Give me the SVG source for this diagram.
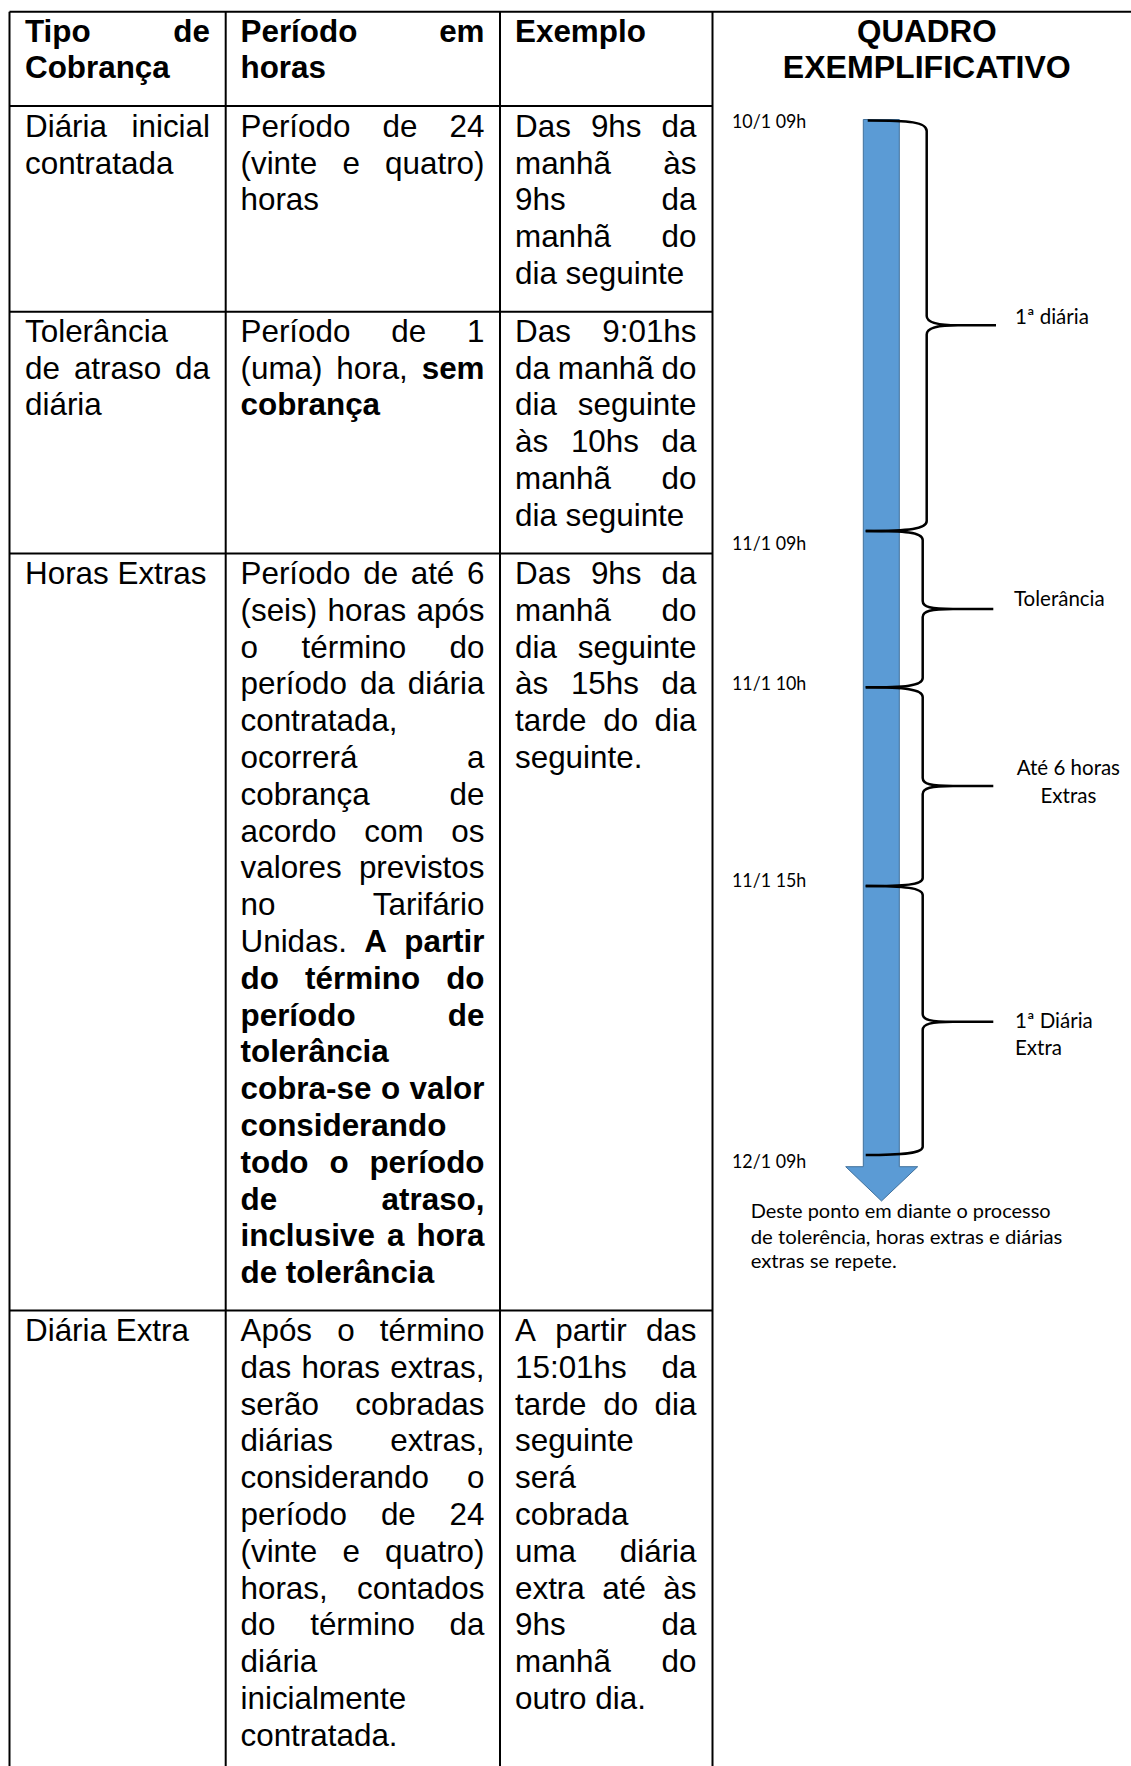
<svg xmlns="http://www.w3.org/2000/svg" width="1131" height="1766" viewBox="0 0 1131 1766">
<style>
text{font-family:"Liberation Sans",Arial,sans-serif;font-size:31.4px;fill:#000}
.b{font-weight:bold}
.e{text-anchor:end}
.c{text-anchor:middle}
.l{font-family:Lato,"Open Sans",sans-serif;font-size:20.5px}
.tm{font-family:Lato,"Open Sans",sans-serif;font-size:19.5px}
.f{font-family:Lato,"Open Sans",sans-serif;font-size:20px}
.grid{stroke:#000;stroke-width:2;fill:none}
.brace{stroke:#000;stroke-width:2.5;fill:none}
</style>
<rect width="1131" height="1766" fill="#fff"/>
<g id="grid" class="grid">
<line x1="9.5" y1="11.7" x2="1131" y2="11.7"/>
<line x1="9.5" y1="11.7" x2="9.5" y2="1766"/>
<line x1="225.7" y1="11.7" x2="225.7" y2="1766"/>
<line x1="500" y1="11.7" x2="500" y2="1766"/>
<line x1="712.5" y1="11.7" x2="712.5" y2="1766"/>
<line x1="9.5" y1="106" x2="712.5" y2="106"/>
<line x1="9.5" y1="311.7" x2="712.5" y2="311.7"/>
<line x1="9.5" y1="553.5" x2="712.5" y2="553.5"/>
<line x1="9.5" y1="1310.5" x2="712.5" y2="1310.5"/>
</g>
<g id="header">
<text x="25" y="42.3" class="b">Tipo</text><text x="210" y="42.3" class="b e">de</text>
<text x="25" y="78" class="b">Cobrança</text>
<text x="240.5" y="42.3" class="b">Período</text><text x="484.5" y="42.3" class="b e">em</text>
<text x="240.5" y="78" class="b">horas</text>
<text x="515" y="42.3" class="b">Exemplo</text>
<text x="926.8" y="42.3" class="b c">QUADRO</text>
<text x="926.8" y="78" class="b c" textLength="288" lengthAdjust="spacingAndGlyphs">EXEMPLIFICATIVO</text>
</g>
<g id="row-diaria-inicial">
<text x="25" y="136.7">Diária</text><text x="210" y="136.7" class="e">inicial</text>
<text x="25" y="173.5">contratada</text>
<text x="240.5" y="136.7">Período</text><text x="382.6" y="136.7">de</text><text x="484.5" y="136.7" class="e">24</text>
<text x="240.5" y="173.5">(vinte</text><text x="342.4" y="173.5">e</text><text x="484.5" y="173.5" class="e">quatro)</text>
<text x="240.5" y="210.3">horas</text>
<text x="515" y="136.7">Das</text><text x="590.9" y="136.7">9hs</text><text x="696.5" y="136.7" class="e">da</text>
<text x="515" y="173.5">manhã</text><text x="696.5" y="173.5" class="e">às</text>
<text x="515" y="210.3">9hs</text><text x="696.5" y="210.3" class="e">da</text>
<text x="515" y="247.1">manhã</text><text x="696.5" y="247.1" class="e">do</text>
<text x="515" y="283.9">dia seguinte</text>
</g>
<g id="row-tolerancia">
<text x="25" y="341.7">Tolerância</text>
<text x="25" y="378.5">de</text><text x="73.9" y="378.5">atraso</text><text x="210" y="378.5" class="e">da</text>
<text x="25" y="415.3">diária</text>
<text x="240.5" y="341.7">Período</text><text x="391.3" y="341.7">de</text><text x="484.5" y="341.7" class="e">1</text>
<text x="240.5" y="378.5">(uma)</text><text x="336.3" y="378.5">hora,</text><text x="484.5" y="378.5" class="b e">sem</text>
<text x="240.5" y="415.3" class="b">cobrança</text>
<text x="515" y="341.7">Das</text><text x="696.5" y="341.7" class="e">9:01hs</text>
<text x="515" y="378.5">da</text><text x="557.8" y="378.5">manhã</text><text x="696.5" y="378.5" class="e">do</text>
<text x="515" y="415.3">dia</text><text x="696.5" y="415.3" class="e">seguinte</text>
<text x="515" y="452.1">às</text><text x="570.9" y="452.1">10hs</text><text x="696.5" y="452.1" class="e">da</text>
<text x="515" y="488.9">manhã</text><text x="696.5" y="488.9" class="e">do</text>
<text x="515" y="525.7">dia seguinte</text>
</g>
<g id="row-horas-extras">
<text x="25" y="584">Horas Extras</text>
<text x="240.5" y="584">Período</text><text x="363.2" y="584">de</text><text x="410.7" y="584">até</text><text x="484.5" y="584" class="e">6</text>
<text x="240.5" y="620.8">(seis)</text><text x="327.6" y="620.8">horas</text><text x="484.5" y="620.8" class="e">após</text>
<text x="240.5" y="657.6">o</text><text x="301.5" y="657.6">término</text><text x="484.5" y="657.6" class="e">do</text>
<text x="240.5" y="694.4">período</text><text x="359.9" y="694.4">da</text><text x="484.5" y="694.4" class="e">diária</text>
<text x="240.5" y="731.2">contratada,</text>
<text x="240.5" y="768">ocorrerá</text><text x="484.5" y="768" class="e">a</text>
<text x="240.5" y="804.8">cobrança</text><text x="484.5" y="804.8" class="e">de</text>
<text x="240.5" y="841.6">acordo</text><text x="364.3" y="841.6">com</text><text x="484.5" y="841.6" class="e">os</text>
<text x="240.5" y="878.4">valores</text><text x="484.5" y="878.4" class="e">previstos</text>
<text x="240.5" y="915.2">no</text><text x="484.5" y="915.2" class="e">Tarifário</text>
<text x="240.5" y="952">Unidas.</text><text x="364.2" y="952" class="b">A</text><text x="484.5" y="952" class="b e">partir</text>
<text x="240.5" y="988.8" class="b">do</text><text x="305" y="988.8" class="b">término</text><text x="484.5" y="988.8" class="b e">do</text>
<text x="240.5" y="1025.6" class="b">período</text><text x="484.5" y="1025.6" class="b e">de</text>
<text x="240.5" y="1062.4" class="b">tolerância</text>
<text x="240.5" y="1099.2" class="b">cobra-se</text><text x="380.9" y="1099.2" class="b">o</text><text x="484.5" y="1099.2" class="b e">valor</text>
<text x="240.5" y="1136" class="b">considerando</text>
<text x="240.5" y="1172.8" class="b">todo</text><text x="329.4" y="1172.8" class="b">o</text><text x="484.5" y="1172.8" class="b e">período</text>
<text x="240.5" y="1209.6" class="b">de</text><text x="484.5" y="1209.6" class="b e">atraso,</text>
<text x="240.5" y="1246.4" class="b">inclusive</text><text x="387" y="1246.4" class="b">a</text><text x="484.5" y="1246.4" class="b e">hora</text>
<text x="240.5" y="1283.2" class="b">de tolerância</text>
<text x="515" y="584">Das</text><text x="590.9" y="584">9hs</text><text x="696.5" y="584" class="e">da</text>
<text x="515" y="620.8">manhã</text><text x="696.5" y="620.8" class="e">do</text>
<text x="515" y="657.6">dia</text><text x="696.5" y="657.6" class="e">seguinte</text>
<text x="515" y="694.4">às</text><text x="570.9" y="694.4">15hs</text><text x="696.5" y="694.4" class="e">da</text>
<text x="515" y="731.2">tarde</text><text x="603.2" y="731.2">do</text><text x="696.5" y="731.2" class="e">dia</text>
<text x="515" y="768">seguinte.</text>
</g>
<g id="row-diaria-extra">
<text x="25" y="1341">Diária Extra</text>
<text x="240.5" y="1341">Após</text><text x="337.2" y="1341">o</text><text x="484.5" y="1341" class="e">término</text>
<text x="240.5" y="1377.8">das</text><text x="301.5" y="1377.8">horas</text><text x="484.5" y="1377.8" class="e">extras,</text>
<text x="240.5" y="1414.6">serão</text><text x="484.5" y="1414.6" class="e">cobradas</text>
<text x="240.5" y="1451.4">diárias</text><text x="484.5" y="1451.4" class="e">extras,</text>
<text x="240.5" y="1488.2">considerando</text><text x="484.5" y="1488.2" class="e">o</text>
<text x="240.5" y="1525">período</text><text x="380.9" y="1525">de</text><text x="484.5" y="1525" class="e">24</text>
<text x="240.5" y="1561.8">(vinte</text><text x="342.4" y="1561.8">e</text><text x="484.5" y="1561.8" class="e">quatro)</text>
<text x="240.5" y="1598.6">horas,</text><text x="484.5" y="1598.6" class="e">contados</text>
<text x="240.5" y="1635.4">do</text><text x="310.2" y="1635.4">término</text><text x="484.5" y="1635.4" class="e">da</text>
<text x="240.5" y="1672.2">diária</text>
<text x="240.5" y="1709">inicialmente</text>
<text x="240.5" y="1745.8">contratada.</text>
<text x="515" y="1341">A</text><text x="555.2" y="1341">partir</text><text x="696.5" y="1341" class="e">das</text>
<text x="515" y="1377.8">15:01hs</text><text x="696.5" y="1377.8" class="e">da</text>
<text x="515" y="1414.6">tarde</text><text x="603.2" y="1414.6">do</text><text x="696.5" y="1414.6" class="e">dia</text>
<text x="515" y="1451.4">seguinte</text>
<text x="515" y="1488.2">será</text>
<text x="515" y="1525">cobrada</text>
<text x="515" y="1561.8">uma</text><text x="696.5" y="1561.8" class="e">diária</text>
<text x="515" y="1598.6">extra</text><text x="602.3" y="1598.6">até</text><text x="696.5" y="1598.6" class="e">às</text>
<text x="515" y="1635.4">9hs</text><text x="696.5" y="1635.4" class="e">da</text>
<text x="515" y="1672.2">manhã</text><text x="696.5" y="1672.2" class="e">do</text>
<text x="515" y="1709">outro dia.</text>
</g>
<g id="timeline">
<path d="M863.3,119.5 H899.3 V1166.7 H917.7 L881.5,1201 L845.7,1166.7 H863.3 Z" fill="#5B9BD5" stroke="#41719C" stroke-width="1"/>
</g>
<g id="connectors" class="brace">
<path d="M867.7,120.5 C910,120.5 926.7,122 926.7,131 L926.7,316 C926.7,322 935,325.3 958,325.3 C935,325.3 926.7,328.5 926.7,334.5 L926.7,521 C926.7,529 910,531 865.7,531"/>
<path d="M958,325.3 H996"/>
<path d="M865.7,531 C905,531 922.7,532 922.7,540 L922.7,601 C922.7,607 931,609 953,609 C931,609 922.7,611 922.7,617 L922.7,678 C922.7,686 905,687.3 865.7,687.3"/>
<path d="M953,609 H993.3"/>
<path d="M865.7,687.3 C905,687.3 922.7,689 922.7,697 L922.7,778 C922.7,784 931,786 953,786 C931,786 922.7,788 922.7,794 L922.7,878 C922.7,885 905,886 865.7,886"/>
<path d="M953,786 H993.3"/>
<path d="M865.7,886 C905,886 922.7,888 922.7,895 L922.7,1014 C922.7,1020 931,1021.7 953,1021.7 C931,1021.7 922.7,1024 922.7,1030 L922.7,1146.7 C922.7,1153 905,1155 865.7,1155"/>
<path d="M953,1021.7 H993.3"/>
</g>
<g id="labels">
<text x="732" y="128" class="tm" textLength="74.3" lengthAdjust="spacingAndGlyphs">10/1 09h</text>
<text x="732" y="550" class="tm" textLength="74.3" lengthAdjust="spacingAndGlyphs">11/1 09h</text>
<text x="732" y="690" class="tm" textLength="74.3" lengthAdjust="spacingAndGlyphs">11/1 10h</text>
<text x="732" y="886.7" class="tm" textLength="74.3" lengthAdjust="spacingAndGlyphs">11/1 15h</text>
<text x="732" y="1168.3" class="tm" textLength="74.3" lengthAdjust="spacingAndGlyphs">12/1 09h</text>
<text x="1015" y="324" class="l">1ª diária</text>
<text x="1014" y="606" class="l">Tolerância</text>
<text x="1068.4" y="775" class="l c">Até 6 horas</text>
<text x="1068.4" y="802.7" class="l c">Extras</text>
<text x="1015" y="1028.3" class="l">1ª Diária</text>
<text x="1015" y="1055" class="l">Extra</text>
</g>
<g id="note">
<text x="750.7" y="1218.3" class="f" textLength="300" lengthAdjust="spacingAndGlyphs">Deste ponto em diante o processo</text>
<text x="750.7" y="1244" class="f" textLength="311.7" lengthAdjust="spacingAndGlyphs">de tolerência, horas extras e diárias</text>
<text x="750.7" y="1268.3" class="f" textLength="146" lengthAdjust="spacingAndGlyphs">extras se repete.</text>
</g>
</svg>
